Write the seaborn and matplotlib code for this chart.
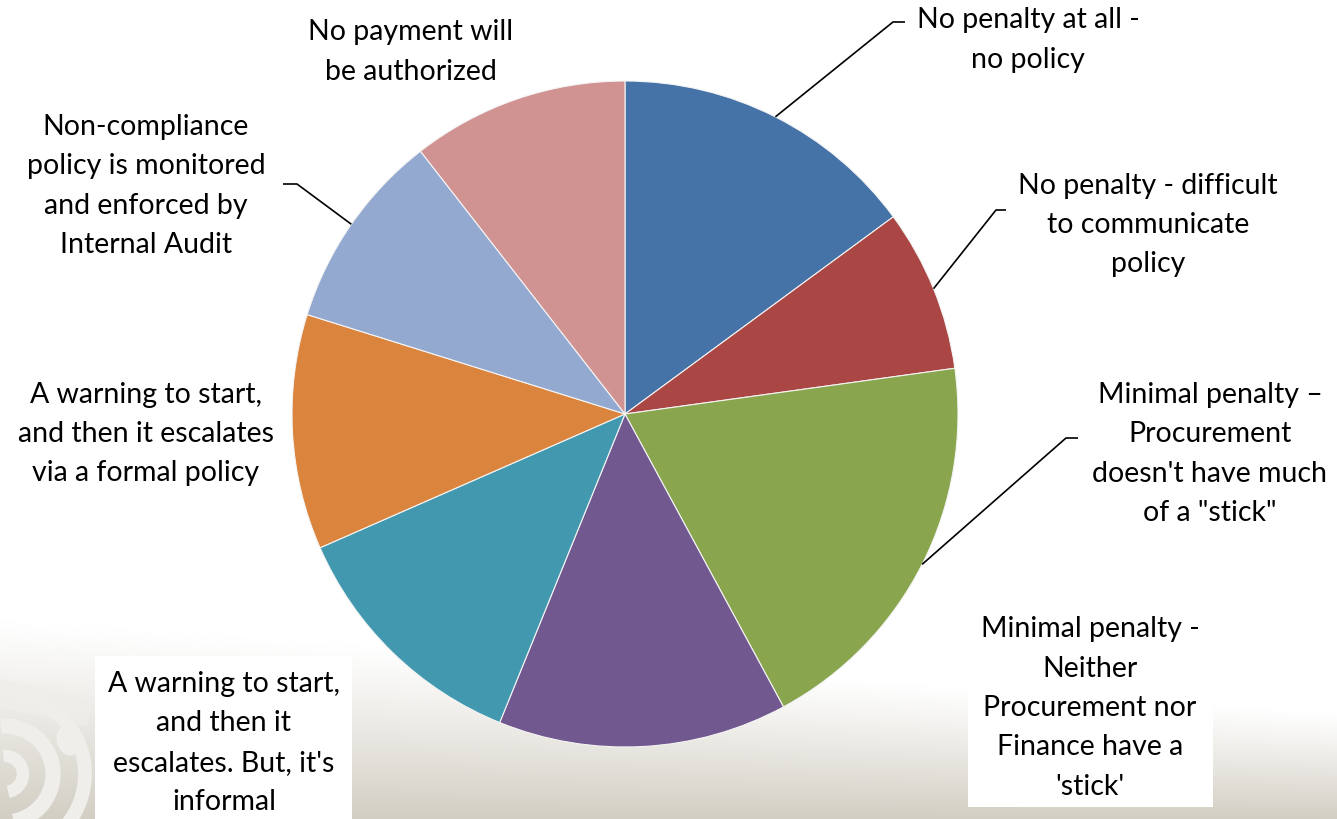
import numpy as np
import matplotlib
matplotlib.use("Agg")
import matplotlib.pyplot as plt
from matplotlib.patches import Rectangle, Arc, Ellipse
import seaborn as sns

# ---- data -------------------------------------------------------------
categories = [
    "No penalty at all -\nno policy",
    "No penalty - difficult\nto communicate\npolicy",
    "Minimal penalty \u2013\nProcurement\ndoesn't have much\nof a \"stick\"",
    "Minimal penalty -\nNeither\nProcurement nor\nFinance have a\n'stick'",
    "A warning to start,\nand then it\nescalates. But, it's\ninformal",
    "A warning to start,\nand then it escalates\nvia a formal policy",
    "Non-compliance\npolicy is monitored\nand enforced by\nInternal Audit",
    "No payment will\nbe authorized",
]
responses = [17, 9, 22, 16, 14, 13, 11, 12]
colors = ["#4572A7", "#AA4643", "#89A54E", "#71588F",
          "#4198AF", "#DB843D", "#93A9CF", "#D19392"]

# ---- canvas -----------------------------------------------------------
W, H = 1337, 820
sns.set_theme(style="white")
plt.rcParams["font.family"] = ["Lato", "DejaVu Sans"]

fig = plt.figure(figsize=(W / 100, H / 100), dpi=100)
ax = fig.add_axes([0, 0, 1, 1])


def Y(y_px):
    """Convert a top-down pixel row into the upward axis coordinate."""
    return H - y_px


# soft beige gradient rising from the bottom edge
xs = np.arange(W)
ys = np.arange(H)
gx, gy = np.meshgrid(xs, ys)
start = 620 + 0.07 * gx
t = np.clip((gy - start) / (H - start), 0, 1) ** 1.1
top = np.array([1.0, 1.0, 1.0])
bottom = np.array([210, 206, 195]) / 255
img = top[None, None, :] * (1 - t[..., None]) + bottom[None, None, :] * t[..., None]
ax.imshow(img, extent=(0, W, 0, H), origin="upper", zorder=0, aspect="auto")

# faint swirl ornament in the lower-left corner
orn = "#efeeea"
ax.add_patch(Rectangle((-40, Y(700)), 130, 28, angle=-12, color=orn, alpha=0.8, zorder=1, lw=0))
for r, lw in [(18, 9), (48, 11), (80, 10)]:
    ax.add_patch(Arc((5, Y(775)), 2 * r, 2 * r, theta1=-80, theta2=95,
                     color=orn, lw=lw, zorder=1))
ax.add_patch(Ellipse((68, Y(742)), 22, 30, angle=20, color=orn, zorder=1, lw=0))

# ---- pie --------------------------------------------------------------
cx, cy, R = 625, Y(415), 333
wedges, _ = ax.pie(responses, colors=colors, startangle=90, counterclock=False,
                   center=(cx, cy), radius=R, frame=True,
                   wedgeprops=dict(edgecolor="#f4f4f4", linewidth=0.8))
for w in wedges:
    w.set_zorder(3)

# ---- labels -----------------------------------------------------------
# (label centre x, label centre y, elbow x, elbow y, tick end x) in pixels
label_layout = [
    (1028, 40, 893, 23, 905),
    (1148, 225, 996, 211, 1006),
    (1210, 454, 1066, 439, 1078),
    (1090, 708, None, None, None),
    (224, 743, None, None, None),
    (146, 434, None, None, None),
    (146, 186, 297, 185, 283),
    (411, 52, None, None, None),
]

# white panels behind the two lower labels
ax.add_patch(Rectangle((968, Y(808)), 245, 201, color="white", zorder=2, lw=0))
ax.add_patch(Rectangle((95, Y(822)), 257, 165, color="white", zorder=2, lw=0))

for w, text, (lx, ly, ex, ey, tx) in zip(wedges, categories, label_layout):
    ax.text(lx, Y(ly), text, ha="center", va="center", fontsize=20.5,
            linespacing=1.64, color="black", zorder=5)
    if ex is not None:
        mid = np.deg2rad((w.theta1 + w.theta2) / 2)
        sx, sy = cx + R * np.cos(mid), cy + R * np.sin(mid)
        ax.plot([sx, ex, tx], [sy, Y(ey), Y(ey)], color="black", lw=1.2,
                solid_capstyle="butt", zorder=4)

ax.set_xlim(0, W)
ax.set_ylim(0, H)
ax.set_aspect("auto")
ax.axis("off")

fig.savefig("out.png", dpi=100)
